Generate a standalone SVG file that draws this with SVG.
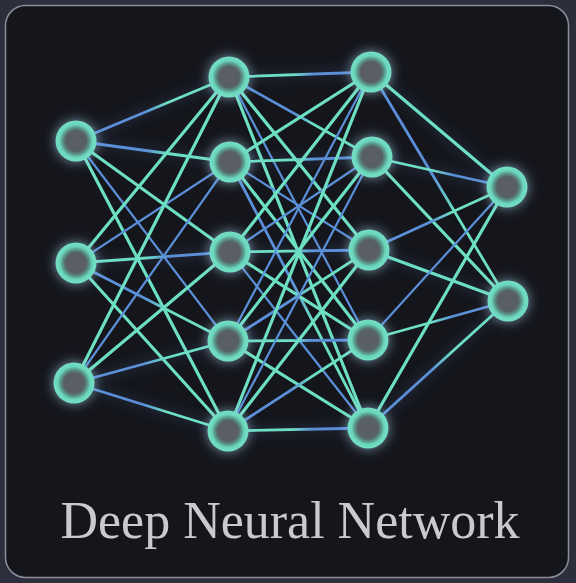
<svg xmlns="http://www.w3.org/2000/svg" width="576" height="583" viewBox="0 0 576 583">
<defs>
<style>
.e{fill:none;stroke-linecap:round}
.T{stroke:#6ddfc3;stroke-width:3.2}
.B{stroke:#5b8fd8;stroke-width:2.2}
.BT{stroke:url(#gBT);stroke-width:2.8}
.TB{stroke:url(#gTB);stroke-width:2.8}
.nd{fill:url(#nodeFill);filter:url(#glow)}
.title{font-family:"Liberation Serif","Times New Roman",serif;font-size:52px;fill:#c9cacf;text-anchor:middle}
</style>
<linearGradient id="gBT" x1="0" y1="0" x2="1" y2="0">
<stop offset="0" stop-color="#5b8fd8"/><stop offset="0.45" stop-color="#5b8fd8"/><stop offset="0.6" stop-color="#6ddfc3"/><stop offset="1" stop-color="#6ddfc3"/>
</linearGradient>
<linearGradient id="gTB" x1="0" y1="0" x2="1" y2="0">
<stop offset="0" stop-color="#6ddfc3"/><stop offset="0.45" stop-color="#6ddfc3"/><stop offset="0.6" stop-color="#5b8fd8"/><stop offset="1" stop-color="#5b8fd8"/>
</linearGradient>
<radialGradient id="nodeFill" cx="0.5" cy="0.5" r="0.5">
<stop offset="0" stop-color="#5c5f66"/><stop offset="0.5" stop-color="#595e65"/><stop offset="0.68" stop-color="#5a9f93"/><stop offset="0.8" stop-color="#6bd6bc"/><stop offset="1" stop-color="#74e0c6"/>
</radialGradient>
<filter id="glow" x="-80%" y="-80%" width="260%" height="260%">
<feGaussianBlur in="SourceAlpha" stdDeviation="6" result="b"/>
<feFlood flood-color="#9fcde6" flood-opacity="0.7"/>
<feComposite in2="b" operator="in" result="g"/>
<feMerge><feMergeNode in="g"/><feMergeNode in="SourceGraphic"/></feMerge>
</filter>
<filter id="haze" x="-10%" y="-10%" width="120%" height="120%">
<feGaussianBlur stdDeviation="6"/>
</filter>
</defs>
<rect x="0" y="0" width="576" height="583" fill="#2b2e3b"/>
<rect x="5.5" y="5.5" width="563" height="572" rx="20" fill="#15161c" stroke="#8b8e9a" stroke-width="1.5"/>

<g id="connectors">
<g opacity="0.35" filter="url(#haze)" stroke="#3f5a88" stroke-width="6" fill="none">
<path d="M76 141L229 77M76 141L230 162M76 263L230 252M74 383L228 341M74 383L228 431M229 77L371 72M230 162L372 157M230 252L369 250M228 341L368 340M228 431L368 428M372 157L507 187M369 250L508 301M368 428L508 301M371 72L507 187"/>
</g>
<!-- L1 -> L2 -->
<line class="e BT" x1="76" y1="141" x2="229" y2="77"/>
<line class="e BT" x1="76" y1="141" x2="230" y2="162"/>
<line class="e T" x1="76" y1="141" x2="230" y2="252"/>
<line class="e B" x1="76" y1="141" x2="228" y2="341"/>
<line class="e T" x1="76" y1="141" x2="228" y2="431"/>
<line class="e T" x1="76" y1="263" x2="229" y2="77"/>
<line class="e B" x1="76" y1="263" x2="230" y2="162"/>
<line class="e TB" x1="76" y1="263" x2="230" y2="252"/>
<line class="e BT" x1="76" y1="263" x2="228" y2="341"/>
<line class="e T" x1="76" y1="263" x2="228" y2="431"/>
<line class="e T" x1="74" y1="383" x2="229" y2="77"/>
<line class="e B" x1="74" y1="383" x2="230" y2="162"/>
<line class="e T" x1="74" y1="383" x2="230" y2="252"/>
<line class="e BT" x1="74" y1="383" x2="228" y2="341"/>
<line class="e BT" x1="74" y1="383" x2="228" y2="431"/>
<!-- L2 -> L3 -->
<line class="e TB" x1="229" y1="77" x2="371" y2="72"/>
<line class="e BT" x1="229" y1="77" x2="372" y2="157"/>
<line class="e T" x1="229" y1="77" x2="369" y2="250"/>
<line class="e B" x1="229" y1="77" x2="368" y2="340"/>
<line class="e T" x1="229" y1="77" x2="368" y2="428"/>
<line class="e T" x1="230" y1="162" x2="371" y2="72"/>
<line class="e TB" x1="230" y1="162" x2="372" y2="157"/>
<line class="e B" x1="230" y1="162" x2="369" y2="250"/>
<line class="e T" x1="230" y1="162" x2="368" y2="340"/>
<line class="e BT" x1="230" y1="162" x2="368" y2="428"/>
<line class="e T" x1="230" y1="252" x2="371" y2="72"/>
<line class="e B" x1="230" y1="252" x2="372" y2="157"/>
<line class="e TB" x1="230" y1="252" x2="369" y2="250"/>
<line class="e T" x1="230" y1="252" x2="368" y2="340"/>
<line class="e B" x1="230" y1="252" x2="368" y2="428"/>
<line class="e B" x1="228" y1="341" x2="371" y2="72"/>
<line class="e T" x1="228" y1="341" x2="372" y2="157"/>
<line class="e BT" x1="228" y1="341" x2="369" y2="250"/>
<line class="e TB" x1="228" y1="341" x2="368" y2="340"/>
<line class="e T" x1="228" y1="341" x2="368" y2="428"/>
<line class="e T" x1="228" y1="431" x2="371" y2="72"/>
<line class="e B" x1="228" y1="431" x2="372" y2="157"/>
<line class="e T" x1="228" y1="431" x2="369" y2="250"/>
<line class="e BT" x1="228" y1="431" x2="368" y2="340"/>
<line class="e TB" x1="228" y1="431" x2="368" y2="428"/>
<!-- L3 -> L4 -->
<line class="e T" x1="371" y1="72" x2="507" y2="187"/>
<line class="e BT" x1="371" y1="72" x2="508" y2="301"/>
<line class="e TB" x1="372" y1="157" x2="507" y2="187"/>
<line class="e T" x1="372" y1="157" x2="508" y2="301"/>
<line class="e BT" x1="369" y1="250" x2="507" y2="187"/>
<line class="e T" x1="369" y1="250" x2="508" y2="301"/>
<line class="e B" x1="368" y1="340" x2="507" y2="187"/>
<line class="e TB" x1="368" y1="340" x2="508" y2="301"/>
<line class="e T" x1="368" y1="428" x2="507" y2="187"/>
<line class="e BT" x1="368" y1="428" x2="508" y2="301"/>
</g>

<g id="n1-1"><circle class="nd" cx="76" cy="141" r="20.5"/></g>
<g id="n1-2"><circle class="nd" cx="76" cy="263" r="20.5"/></g>
<g id="n1-3"><circle class="nd" cx="74" cy="383" r="20.5"/></g>
<g id="n2-1"><circle class="nd" cx="229" cy="77" r="20.5"/></g>
<g id="n2-2"><circle class="nd" cx="230" cy="162" r="20.5"/></g>
<g id="n2-3"><circle class="nd" cx="230" cy="252" r="20.5"/></g>
<g id="n2-4"><circle class="nd" cx="228" cy="341" r="20.5"/></g>
<g id="n2-5"><circle class="nd" cx="228" cy="431" r="20.5"/></g>
<g id="n3-1"><circle class="nd" cx="371" cy="72" r="20.5"/></g>
<g id="n3-2"><circle class="nd" cx="372" cy="157" r="20.5"/></g>
<g id="n3-3"><circle class="nd" cx="369" cy="250" r="20.5"/></g>
<g id="n3-4"><circle class="nd" cx="368" cy="340" r="20.5"/></g>
<g id="n3-5"><circle class="nd" cx="368" cy="428" r="20.5"/></g>
<g id="n4-1"><circle class="nd" cx="507" cy="187" r="20.5"/></g>
<g id="n4-2"><circle class="nd" cx="508" cy="301" r="20.5"/></g>

<text class="title" x="290" y="538">Deep Neural Network</text>
</svg>
